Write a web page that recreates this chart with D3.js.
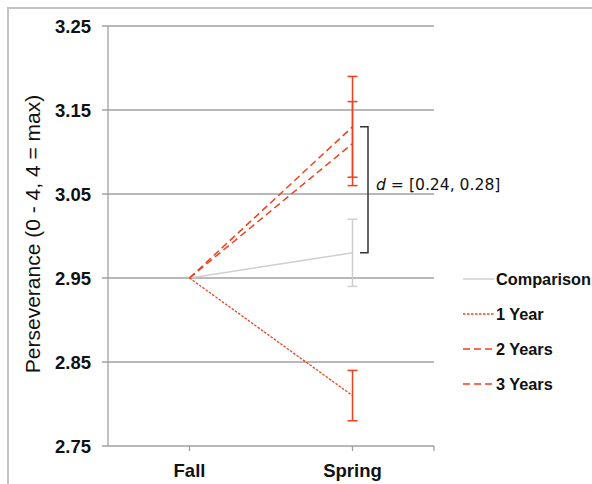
<!DOCTYPE html>
<html><head><meta charset="utf-8">
<script src="https://cdn.jsdelivr.net/npm/d3@7"></script>
<style>body{margin:0;background:#fff}svg{display:block}</style>
</head><body>
<script>
const categories = ["Fall", "Spring"];
const seriesNames = ["Comparison", "1 Year", "2 Years", "3 Years"];
const comparison = [2.95, 2.98];
const oneYear = [2.95, 2.81];
const twoYears = [2.95, 3.11];
const threeYears = [2.95, 3.13];
const errLow = [2.94, 2.78, 3.06, 3.07];   // spring error bar lows
const errHigh = [3.02, 2.84, 3.16, 3.19];  // spring error bar highs
const yTicks = [2.75, 2.85, 2.95, 3.05, 3.15, 3.25];
const annotation = "[0.24, 0.28]";

const W = 592, H = 484;
const svg = d3.select("body").append("svg").attr("width", W).attr("height", H);

// frame
svg.append("path").attr("d", "M8,484V8H592").attr("fill", "none").attr("stroke", "#c4c4c4").attr("stroke-width", 2);

const x0 = 108, x1 = 434;
const y = d3.scaleLinear().domain([2.75, 3.25]).range([446, 26]);
const x = d3.scaleBand().domain(categories).range([x0, x1]);
const cx = c => x(c) + x.bandwidth() / 2;

// gridlines
svg.append("g").selectAll("line").data(yTicks).join("line")
  .attr("x1", x0 - 6).attr("x2", x1).attr("y1", d => y(d)).attr("y2", d => y(d))
  .attr("stroke", "#a0a0a0").attr("stroke-width", 1.3);
// y axis line
svg.append("line").attr("x1", x0).attr("x2", x0).attr("y1", y(3.25)).attr("y2", y(2.75))
  .attr("stroke", "#a0a0a0").attr("stroke-width", 1.3);
// x ticks
const xt = categories.map(cx).concat([x1]);
svg.append("g").selectAll("line").data(xt).join("line")
  .attr("x1", d => d).attr("x2", d => d).attr("y1", y(2.75)).attr("y2", y(2.75) + 5)
  .attr("stroke", "#a0a0a0").attr("stroke-width", 1.3);

// y labels
svg.append("g").selectAll("text").data(yTicks).join("text")
  .attr("x", 91).attr("y", d => y(d)).attr("dy", "0.36em").attr("text-anchor", "end")
  .attr("font-family", "Liberation Sans, Arial, sans-serif").attr("font-weight", "bold").attr("font-size", 18.5)
  .attr("fill", "#111").text(d => d.toFixed(2));
// x labels
svg.append("g").selectAll("text").data(categories).join("text")
  .attr("x", d => cx(d)).attr("y", 477).attr("text-anchor", "middle")
  .attr("font-family", "Liberation Sans, Arial, sans-serif").attr("font-weight", "bold").attr("font-size", 18.5)
  .attr("fill", "#111").text(d => d);
// y title
svg.append("text").attr("transform", "translate(40,234) rotate(-90)").attr("text-anchor", "middle")
  .attr("font-family", "Liberation Sans, Arial, sans-serif").attr("font-size", 21).attr("fill", "#111")
  .text("Perseverance (0 - 4, 4 = max)");

const red = "#f0401e";
const series = [
  {name: seriesNames[0], vals: comparison, color: "#cfcfcf", dash: null, w: 1.5},
  {name: seriesNames[1], vals: oneYear, color: red, dash: "2.5,1.5", w: 1.3},
  {name: seriesNames[2], vals: twoYears, color: red, dash: "7,4", w: 1.5},
  {name: seriesNames[3], vals: threeYears, color: red, dash: "7,4", w: 1.5}
];

const line = d3.line().x((d, i) => cx(categories[i])).y(d => y(d));

// error bars
series.forEach((s, i) => {
  const xs = cx("Spring");
  const g = svg.append("g").attr("stroke", s.color).attr("stroke-width", 1.5);
  g.append("line").attr("x1", xs).attr("x2", xs).attr("y1", y(errLow[i])).attr("y2", y(errHigh[i]));
  [errLow[i], errHigh[i]].forEach(v => g.append("line").attr("x1", xs - 5).attr("x2", xs + 5).attr("y1", y(v)).attr("y2", y(v)));
});

series.forEach(s => {
  svg.append("path").attr("d", line(s.vals)).attr("fill", "none")
    .attr("stroke", s.color).attr("stroke-width", s.w).attr("stroke-dasharray", s.dash);
});

// bracket
const bx = 368;
svg.append("path").attr("d", `M${bx - 8},${y(threeYears[1])}H${bx}V${y(comparison[1])}H${bx - 8}`)
  .attr("fill", "none").attr("stroke", "#333").attr("stroke-width", 1.5);
const ann = svg.append("text").attr("x", 376).attr("y", 190)
  .attr("font-family", "DejaVu Sans, sans-serif").attr("font-size", 15.6).attr("fill", "#111");
ann.append("tspan").attr("font-style", "italic").text("d");
ann.append("tspan").text(" = " + annotation);

// legend
const lg = svg.append("g");
series.forEach((s, i) => {
  const ly = 279 + i * 35;
  lg.append("line").attr("x1", 463).attr("x2", 494).attr("y1", ly).attr("y2", ly)
    .attr("stroke", s.color).attr("stroke-width", s.w).attr("stroke-dasharray", s.dash);
  lg.append("text").attr("x", 496).attr("y", ly).attr("dy", "0.36em")
    .attr("font-family", "Liberation Sans, Arial, sans-serif").attr("font-weight", "bold").attr("font-size", 16.3)
    .attr("fill", "#111").text(s.name);
});
</script>
</body></html>
